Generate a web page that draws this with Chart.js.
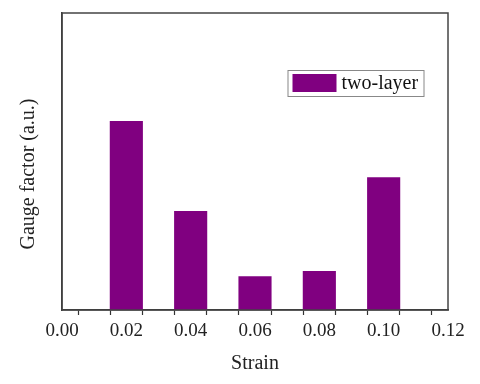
<!DOCTYPE html>
<html>
<head>
<meta charset="utf-8">
<script src="https://cdn.jsdelivr.net/npm/chart.js@4"></script>
<style>
    html, body { margin: 0; padding: 0; background: #fff; }
    #wrap { width: 480px; height: 384px; }
</style>
</head>
<body>
<div id="wrap"><canvas id="gfChart"></canvas></div>
<script>
// Strain values (x) and gauge factor (arbitrary units)
const strains = [0.02, 0.04, 0.06, 0.08, 0.10];
const gaugeFactor = [6.36, 3.33, 1.14, 1.31, 4.47];
const seriesName = 'two-layer';
const xTickMin = 0;
const xTickMax = 0.12;

const serif = "'Liberation Serif', 'Times New Roman', serif";

// frame round the plot area plus the legend box inside it
const framePlugin = {
    id: 'frame',
    afterDatasetsDraw(chart) {
        const { ctx, chartArea: a } = chart;
        ctx.save();
        ctx.strokeStyle = '#444';
        ctx.lineWidth = 1.5;
        ctx.strokeRect(a.left, a.top, a.right - a.left, a.bottom - a.top);

        // legend
        const ds = chart.data.datasets[0];
        const boxRight = a.right - 24.5;
        const boxTop = a.top + 57;
        const boxW = 136;
        const boxH = 26;
        ctx.lineWidth = 1;
        ctx.strokeStyle = '#888';
        ctx.strokeRect(boxRight - boxW + 0.5, boxTop + 0.5, boxW, boxH);
        ctx.fillStyle = ds.backgroundColor;
        ctx.fillRect(boxRight - boxW + 5, boxTop + 4, 44, 18);
        ctx.fillStyle = '#111';
        ctx.font = '20px ' + serif;
        ctx.textBaseline = 'middle';
        ctx.fillText(ds.label, boxRight - boxW + 54, boxTop + 14);
        ctx.restore();
    }
};

new Chart(document.getElementById('gfChart'), {
    type: 'bar',
    data: {
        datasets: [{
            label: seriesName,
            data: strains.map((s, i) => ({ x: s, y: gaugeFactor[i] })),
            backgroundColor: '#800080',
            borderWidth: 0,
            barPercentage: 1.03,
            categoryPercentage: 1
        }]
    },
    options: {
        responsive: true,
        maintainAspectRatio: false,
        animation: false,
        layout: { padding: { left: 0, right: 32, top: 13, bottom: 0 } },
        plugins: {
            legend: { display: false },
            tooltip: { enabled: false }
        },
        scales: {
            x: {
                type: 'linear',
                min: xTickMin,
                max: xTickMax,
                offset: false,
                afterFit: (s) => { s.height = 74; },
                grid: {
                    drawOnChartArea: false,
                    drawTicks: true,
                    tickLength: 5,
                    tickColor: '#333',
                    tickWidth: 1.2
                },
                border: { display: true, color: '#333', width: 1.5 },
                ticks: {
                    stepSize: 0.01,
                    autoSkip: false,
                    maxRotation: 0,
                    padding: 5,
                    color: '#222',
                    font: { family: serif, size: 19 },
                    callback: (v) => (Math.round(v * 100) % 2 === 0 ? v.toFixed(2) : '')
                },
                title: {
                    display: true,
                    text: 'Strain',
                    color: '#222',
                    font: { family: serif, size: 20 },
                    padding: { top: 4, bottom: 8 }
                }
            },
            y: {
                min: 0,
                max: 10,
                afterFit: (s) => { s.width = 62; },
                grid: { display: false },
                border: { display: true, color: '#333', width: 1.5 },
                ticks: { display: false },
                title: {
                    display: true,
                    text: 'Gauge factor (a.u.)     ',
                    color: '#222',
                    font: { family: serif, size: 20 },
                    padding: { top: 17, bottom: 0 }
                }
            }
        }
    },
    plugins: [framePlugin]
});
</script>
</body>
</html>
